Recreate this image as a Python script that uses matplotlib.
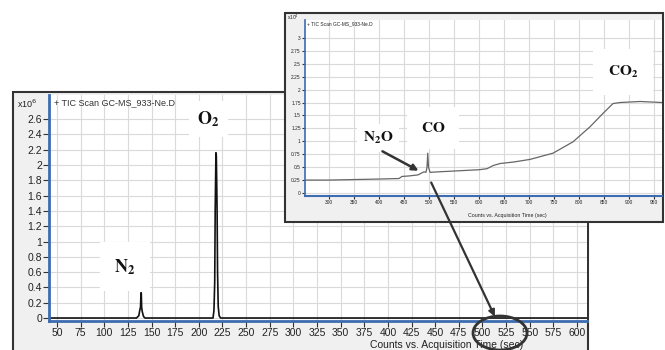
import matplotlib.pyplot as plt
from matplotlib.patches import Rectangle, Ellipse, FancyArrowPatch
from matplotlib.ticker import FuncFormatter

# main chromatogram (x10^6 counts)
main_time = [41.5, 134, 136.5, 137.5, 138.3, 138.8, 139.1, 139.5, 140.2, 141.5, 143,
             215, 216, 216.8, 217.3, 217.7, 218.1, 218.5, 218.9, 219.3, 219.8, 220.5,
             221.5, 223, 610.6]
main_counts = [0, 0, 0.03, 0.10, 0.14, 0.33, 0.33, 0.14, 0.08, 0.02, 0,
               0, 0.10, 0.47, 1.41, 1.78, 2.16, 2.12, 1.78, 1.41, 0.60, 0.15,
               0.03, 0, 0]
main_xticks = list(range(50, 601, 25))
main_yticks = [i * 0.2 for i in range(14)]

# zoomed chromatogram (x10^4 counts)
inset_time = [252, 300, 350, 400, 440, 446, 460, 478, 484, 490, 494, 496, 497.5,
              499, 502, 520, 560, 600, 616, 628, 642, 670, 702, 748, 788, 822,
              848, 868, 882, 922, 966]
inset_counts = [0.25, 0.25, 0.26, 0.27, 0.28, 0.32, 0.33, 0.35, 0.38, 0.41, 0.40,
                0.50, 0.77, 0.50, 0.40, 0.41, 0.43, 0.45, 0.47, 0.53, 0.57, 0.60,
                0.65, 0.77, 0.99, 1.28, 1.54, 1.73, 1.75, 1.77, 1.75]
inset_xticks = list(range(300, 951, 50))
inset_yticks = [i * 0.25 for i in range(13)]

W, H = 665, 350
plt.rcParams['font.family'] = ['Liberation Sans', 'DejaVu Sans']

fig = plt.figure(figsize=(W / 100, H / 100), dpi=100)


def box(l, t, r, b):
    # pixel box -> figure fraction rect
    return [l / W, 1 - b / H, (r - l) / W, (b - t) / H]


blue = '#3d6cb0'
frame_c = '#333333'
fmt = FuncFormatter(lambda v, p: f'{v:g}')


def style_axes(ax, fs, tick_len):
    ax.set_facecolor('white')
    for s in ['top', 'right']:
        ax.spines[s].set_visible(False)
    ax.spines['left'].set_color(blue)
    ax.spines['bottom'].set_color(blue)
    ax.spines['left'].set_linewidth(2)
    ax.spines['bottom'].set_linewidth(2)
    ax.tick_params(direction='out', length=tick_len, width=0.8, color='#333333',
                   labelsize=fs, labelcolor='#222222', pad=1)
    ax.grid(True, color='#dadada', lw=0.8)
    ax.set_axisbelow(True)
    ax.yaxis.set_major_formatter(fmt)


# main frame
mb = box(13, 92, 588, 365)
fig.add_artist(Rectangle(mb[:2], mb[2], mb[3], transform=fig.transFigure,
                         fc='#f0f0f0', ec=frame_c, lw=1.5, zorder=0.5))

ax = fig.add_axes(box(49, 95, 587, 321), zorder=1)
style_axes(ax, 7.5, 4)
ax.plot(main_time, main_counts, color='#111111', lw=1.2)
ax.set_xlim(41.5, 610.6)
ax.set_ylim(-0.039, 2.915)
ax.set_xticks(main_xticks)
ax.set_yticks(main_yticks)
ax.text(0.01, 0.985, '+ TIC Scan GC-MS_933-Ne.D', transform=ax.transAxes,
        fontsize=6.5, va='top', ha='left', color='#333333')
fig.text(17 / W, 1 - 104 / H, 'x10$^6$', fontsize=6.5, va='center', color='#222222')
fig.text(447 / W, 1 - 340 / H, 'Counts vs. Acquisition Time (sec)', fontsize=7.5,
         ha='center', va='top', color='#222222')

lab = dict(fontsize=13, math_fontfamily='stix', ha='center', va='center',
           color='#111111')
ax.text(122, 0.67, r'$\mathbf{N_2}$',
        bbox=dict(boxstyle='square,pad=0.8', fc='white', ec='none'), **lab)
ax.text(210, 2.6, r'$\mathbf{O_2}$',
        bbox=dict(boxstyle='square,pad=0.45', fc='white', ec='none'), **lab)

# inset frame
ib = box(285, 13, 663, 222)
fig.add_artist(Rectangle(ib[:2], ib[2], ib[3], transform=fig.transFigure,
                         fc='#f0f0f0', ec=frame_c, lw=1.5, zorder=2))

ax2 = fig.add_axes(box(305, 20, 662, 196), zorder=3)
style_axes(ax2, 3.5, 2)
ax2.spines['left'].set_linewidth(1.2)
ax2.spines['bottom'].set_linewidth(1.5)
ax2.plot(inset_time, inset_counts, color='#666666', lw=0.9)
ax2.set_xlim(252, 966)
ax2.set_ylim(-0.058, 3.346)
ax2.set_xticks(inset_xticks)
ax2.set_yticks(inset_yticks)
ax2.text(0.005, 0.99, '+ TIC Scan GC-MS_933-Ne.D', transform=ax2.transAxes,
         fontsize=3.5, va='top', ha='left', color='#222222')
fig.text(287 / W, 1 - 17 / H, 'x10$^4$', fontsize=3.5, va='center', color='#222222')
fig.text(507 / W, 1 - 215 / H, 'Counts vs. Acquisition Time (sec)', fontsize=3.8,
         ha='center', va='center', color='#222222')

lab2 = dict(lab, fontsize=11)
ax2.text(398, 1.06, r'$\mathbf{N_2O}$',
         bbox=dict(boxstyle='square,pad=0.4', fc='white', ec='none'), **lab2)
ax2.text(508, 1.26, r'$\mathbf{CO}$',
         bbox=dict(boxstyle='square,pad=0.9', fc='white', ec='none'), **lab2)
ax2.text(888, 2.34, r'$\mathbf{CO_2}$',
         bbox=dict(boxstyle='square,pad=1.0', fc='white', ec='none'), **lab2)

# arrows and ellipse on a pixel overlay
ov = fig.add_axes([0, 0, 1, 1], zorder=5)
ov.set_xlim(0, W)
ov.set_ylim(H, 0)
ov.axis('off')
ov.patch.set_visible(False)
ov.add_patch(FancyArrowPatch((380, 150), (421, 172), arrowstyle='-|>',
                             mutation_scale=9, color='#333333', lw=1.8))
ov.add_patch(FancyArrowPatch((430, 180), (496, 319), arrowstyle='-|>',
                             mutation_scale=9, color='#333333', lw=1.6))
ov.add_patch(Ellipse((500, 333), 54, 34, fill=False, ec='#333333', lw=2))

fig.savefig('out.png', dpi=100)
